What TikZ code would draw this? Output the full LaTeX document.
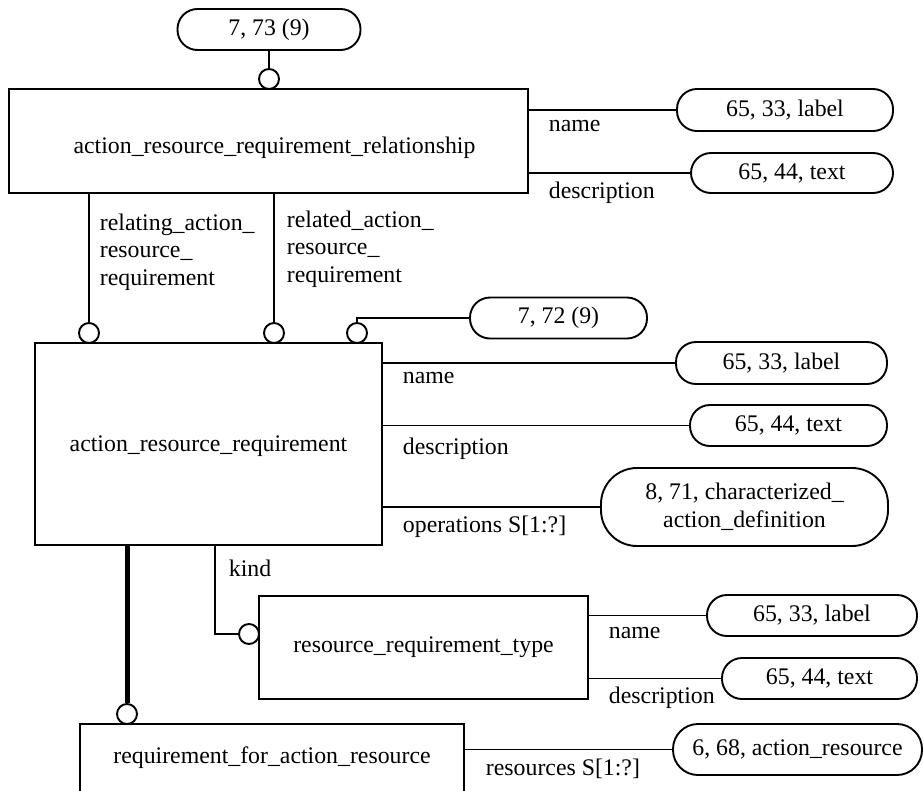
\documentclass[tikz,border=0pt]{standalone}
\usepackage{fontspec}
\setmainfont{Liberation Serif}
\begin{document}
\begin{tikzpicture}[x=1pt,y=-1pt,line width=1.9pt,
  every node/.style={font=\fontsize{23.8}{27.5}\selectfont,inner sep=0pt},
  entity/.style={draw,rectangle},
  defref/.style={draw,rounded corners=20pt,minimum height=41pt},
  ring/.style={draw,circle,minimum size=20pt,fill=white},
  lbl/.style={anchor=base west},
  mlbl/.style={anchor=north west,align=left}]
\useasboundingbox (0,0) rectangle (923,790);
\clip (0,0) rectangle (923,790);

% top entity
\node[defref,minimum width=183pt] (r73) at (269,29.5) {7, 73 (9)};
\node[entity,minimum width=519pt,minimum height=104pt,text height=24pt,text depth=0pt] (arrr) at (268.5,141) {\hspace*{12pt}action\_resource\_requirement\_relationship};
\node[ring] (c73) at (269,79) {};
\draw (r73.south) -- (c73.north);

\node[defref,minimum width=216pt,minimum height=42pt] (L1) at (785,110) {65, 33, label};
\node[defref,minimum width=202pt,minimum height=40pt] (T1) at (792,173) {65, 44, text};
\draw (L1.west -| arrr.east) -- (L1.west);
\draw (T1.west -| arrr.east) -- (T1.west);
\node[lbl] (n1) at (548,131) {name};
\node[lbl] (d1) at (548,198) {description};

% second entity
\node[entity,minimum width=347pt,minimum height=202pt,text height=18.5pt,text depth=3.5pt] (arr) at (208.5,444) {action\_resource\_requirement};
\node[ring] (c1) at (89,333) {};
\node[ring] (c2) at (274,333) {};
\node[ring] (c3) at (357,333) {};
\draw (c1.north) -- (c1.north |- arrr.south);
\draw (c2.north) -- (c2.north |- arrr.south);
\node[mlbl] (rel1) at (99,213) {relating\_action\_\\resource\_\\requirement};
\node[mlbl] (rel2) at (286,210) {related\_action\_\\resource\_\\requirement};

\node[defref,minimum width=177pt] (r72) at (558.5,318) {7, 72 (9)};
\draw (c3.north) |- (r72.west);

\node[defref,minimum width=211pt,minimum height=42pt] (L2) at (781.5,363) {65, 33, label};
\node[defref,minimum width=197pt] (T2) at (788.5,425.5) {65, 44, text};
\node[draw,rounded corners=36pt,minimum width=287pt,minimum height=78pt,align=center] (C2) at (744.5,507) {8, 71, characterized\_\\action\_definition};
\draw (L2.west -| arr.east) -- (L2.west);
\draw (T2.west -| arr.east) -- (T2.west);
\draw (C2.west -| arr.east) -- (C2.west);
\node[lbl] (n2) at (402,383) {name};
\node[lbl] (d2) at (402,454) {description};
\node[lbl] (o2) at (402,532) {operations S[1:?]};

% resource_requirement_type
\node[entity,minimum width=329pt,minimum height=103pt] (rrt) at (423.5,647.5) {resource\_requirement\_type};
\node[ring] (c4) at (249,634) {};
\coordinate (kindx) at (215,0);
\draw (c4.west) -| (kindx |- arr.south);
\node[lbl] (k) at (228,576) {kind};

\node[defref,minimum width=210pt] (L3) at (812,615.5) {65, 33, label};
\node[defref,minimum width=195pt] (T3) at (819.5,678.5) {65, 44, text};
\draw (L3.west -| rrt.east) -- (L3.west);
\draw (T3.west -| rrt.east) -- (T3.west);
\node[lbl] (n3) at (608,638) {name};
\node[lbl] (d3) at (608,703) {description};

% requirement_for_action_resource
\node[entity,minimum width=384pt,minimum height=68pt] (rfar) at (272,758) {requirement\_for\_action\_resource};
\node[ring] (c5) at (127,714) {};
\draw[line width=5pt] (c5.north) -- (c5.north |- arr.south);

\node[draw,rounded corners=25pt,minimum width=249pt,minimum height=51pt] (R4) at (797.5,749.5) {6, 68, action\_resource};
\draw (R4.west -| rfar.east) -- (R4.west);
\node[lbl] (res) at (485,775) {resources S[1:?]};
\end{tikzpicture}
\end{document}
